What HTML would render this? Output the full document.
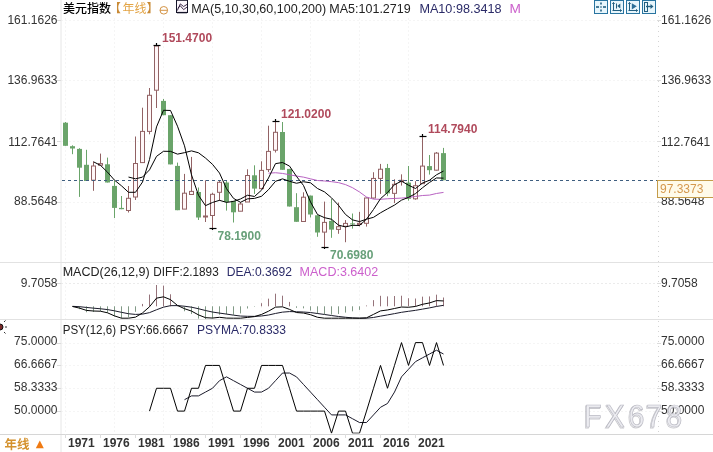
<!DOCTYPE html>
<html><head><meta charset="utf-8"><style>
html,body{margin:0;padding:0;background:#fff;}
body{width:713px;height:452px;overflow:hidden;position:relative;font-family:"Liberation Sans", "Noto Sans CJK SC", sans-serif;}
svg{position:absolute;left:0;top:0;}
text{font-family:"Liberation Sans", "Noto Sans CJK SC", sans-serif;}
</style></head><body>
<svg width="713" height="452" viewBox="0 0 713 452">
<defs>
<clipPath id="cm"><rect x="61" y="263" width="596" height="56"/></clipPath>
<clipPath id="cp"><rect x="61" y="320" width="596" height="113.5"/></clipPath>
</defs>
<rect width="713" height="452" fill="#fff"/>
<line x1="61" y1="20.5" x2="657" y2="20.5" stroke="#f5f5f5" stroke-dasharray="2,2"/>
<line x1="61" y1="80.5" x2="657" y2="80.5" stroke="#f5f5f5" stroke-dasharray="2,2"/>
<line x1="61" y1="141.5" x2="657" y2="141.5" stroke="#f5f5f5" stroke-dasharray="2,2"/>
<line x1="61" y1="202.5" x2="657" y2="202.5" stroke="#f5f5f5" stroke-dasharray="2,2"/>
<line x1="61" y1="283.5" x2="657" y2="283.5" stroke="#ebebeb" stroke-dasharray="2,2"/>
<line x1="61" y1="343.5" x2="657" y2="343.5" stroke="#f5f5f5" stroke-dasharray="2,2"/>
<line x1="61" y1="365.5" x2="657" y2="365.5" stroke="#f5f5f5" stroke-dasharray="2,2"/>
<line x1="61" y1="388.5" x2="657" y2="388.5" stroke="#f5f5f5" stroke-dasharray="2,2"/>
<line x1="61" y1="411.5" x2="657" y2="411.5" stroke="#f5f5f5" stroke-dasharray="2,2"/>
<line x1="65.5" y1="18" x2="65.5" y2="434" stroke="#f5f5f5" stroke-dasharray="2,2"/>
<line x1="114.5" y1="18" x2="114.5" y2="434" stroke="#f5f5f5" stroke-dasharray="2,2"/>
<line x1="163.5" y1="18" x2="163.5" y2="434" stroke="#f5f5f5" stroke-dasharray="2,2"/>
<line x1="212.5" y1="18" x2="212.5" y2="434" stroke="#f5f5f5" stroke-dasharray="2,2"/>
<line x1="261.5" y1="18" x2="261.5" y2="434" stroke="#f5f5f5" stroke-dasharray="2,2"/>
<line x1="310.5" y1="18" x2="310.5" y2="434" stroke="#f5f5f5" stroke-dasharray="2,2"/>
<line x1="359.5" y1="18" x2="359.5" y2="434" stroke="#f5f5f5" stroke-dasharray="2,2"/>
<line x1="408.5" y1="18" x2="408.5" y2="434" stroke="#f5f5f5" stroke-dasharray="2,2"/>
<line x1="61" y1="0" x2="61" y2="452" stroke="#e6e6e6"/>
<line x1="658.5" y1="16" x2="658.5" y2="434" stroke="#d4d4d4" stroke-dasharray="1,4"/>
<line x1="0" y1="262.5" x2="713" y2="262.5" stroke="#e2e2e2"/>
<line x1="0" y1="319.5" x2="713" y2="319.5" stroke="#e2e2e2"/>
<line x1="0" y1="434.5" x2="713" y2="434.5" stroke="#d6d6d6"/>
<line x1="57" y1="20.5" x2="61" y2="20.5" stroke="#dcdcdc"/>
<line x1="657" y1="20.5" x2="661" y2="20.5" stroke="#dcdcdc"/>
<line x1="57" y1="80.5" x2="61" y2="80.5" stroke="#dcdcdc"/>
<line x1="657" y1="80.5" x2="661" y2="80.5" stroke="#dcdcdc"/>
<line x1="57" y1="141.5" x2="61" y2="141.5" stroke="#dcdcdc"/>
<line x1="657" y1="141.5" x2="661" y2="141.5" stroke="#dcdcdc"/>
<line x1="57" y1="202.5" x2="61" y2="202.5" stroke="#dcdcdc"/>
<line x1="657" y1="202.5" x2="661" y2="202.5" stroke="#dcdcdc"/>
<line x1="57" y1="283.5" x2="61" y2="283.5" stroke="#dcdcdc"/>
<line x1="657" y1="283.5" x2="661" y2="283.5" stroke="#dcdcdc"/>
<line x1="57" y1="343.5" x2="61" y2="343.5" stroke="#dcdcdc"/>
<line x1="657" y1="343.5" x2="661" y2="343.5" stroke="#dcdcdc"/>
<line x1="57" y1="365.5" x2="61" y2="365.5" stroke="#dcdcdc"/>
<line x1="657" y1="365.5" x2="661" y2="365.5" stroke="#dcdcdc"/>
<line x1="57" y1="388.5" x2="61" y2="388.5" stroke="#dcdcdc"/>
<line x1="657" y1="388.5" x2="661" y2="388.5" stroke="#dcdcdc"/>
<line x1="57" y1="411.5" x2="61" y2="411.5" stroke="#dcdcdc"/>
<line x1="657" y1="411.5" x2="661" y2="411.5" stroke="#dcdcdc"/>
<line x1="65.5" y1="122" x2="65.5" y2="145.8" stroke="#6aa46a"/>
<rect x="63.0" y="122.7" width="5" height="23.1" fill="#6aa46a"/>
<line x1="72.5" y1="145.3" x2="72.5" y2="154.2" stroke="#6aa46a"/>
<rect x="70.0" y="146.2" width="5" height="2.3" fill="#6aa46a"/>
<line x1="79.5" y1="148.2" x2="79.5" y2="196.9" stroke="#6aa46a"/>
<rect x="77.0" y="148.9" width="5" height="18.8" fill="#6aa46a"/>
<line x1="86.5" y1="149.8" x2="86.5" y2="181" stroke="#6aa46a"/>
<rect x="84.0" y="164.8" width="5" height="16.2" fill="#6aa46a"/>
<line x1="93.5" y1="161.6" x2="93.5" y2="190.8" stroke="#926264"/>
<rect x="91.5" y="166" width="4" height="14.2" fill="#fff7f8" stroke="#926264"/>
<line x1="100.5" y1="153.6" x2="100.5" y2="165.2" stroke="#926264"/>
<rect x="98.5" y="163.6" width="4" height="1.6" fill="#fff7f8" stroke="#926264"/>
<line x1="107.5" y1="157.6" x2="107.5" y2="182.5" stroke="#6aa46a"/>
<rect x="105.0" y="164.3" width="5" height="18.2" fill="#6aa46a"/>
<line x1="114.5" y1="180.6" x2="114.5" y2="218" stroke="#6aa46a"/>
<rect x="112.0" y="185.9" width="5" height="22" fill="#6aa46a"/>
<line x1="121.5" y1="196" x2="121.5" y2="209.2" stroke="#6aa46a"/>
<rect x="119.0" y="207.9" width="5" height="1.3" fill="#6aa46a"/>
<line x1="128.5" y1="186" x2="128.5" y2="212.5" stroke="#926264"/>
<rect x="126.5" y="198.3" width="4" height="12.2" fill="#fff7f8" stroke="#926264"/>
<line x1="135.5" y1="136.5" x2="135.5" y2="200" stroke="#926264"/>
<rect x="133.5" y="163.5" width="4" height="33.5" fill="#fff7f8" stroke="#926264"/>
<line x1="142.5" y1="107.7" x2="142.5" y2="163" stroke="#926264"/>
<rect x="140.5" y="131.4" width="4" height="31.2" fill="#fff7f8" stroke="#926264"/>
<line x1="149.5" y1="88" x2="149.5" y2="134.3" stroke="#926264"/>
<rect x="147.5" y="95.3" width="4" height="36.1" fill="#fff7f8" stroke="#926264"/>
<line x1="156.5" y1="45.3" x2="156.5" y2="108" stroke="#926264"/>
<rect x="154.5" y="46" width="4" height="44.2" fill="#fff7f8" stroke="#926264"/>
<line x1="163.5" y1="99" x2="163.5" y2="115.2" stroke="#6aa46a"/>
<rect x="161.0" y="100.9" width="5" height="14.3" fill="#6aa46a"/>
<line x1="170.5" y1="115.2" x2="170.5" y2="164.4" stroke="#6aa46a"/>
<rect x="168.0" y="115.2" width="5" height="49.2" fill="#6aa46a"/>
<line x1="177.5" y1="162.6" x2="177.5" y2="210.2" stroke="#6aa46a"/>
<rect x="175.0" y="165.9" width="5" height="44.3" fill="#6aa46a"/>
<line x1="184.5" y1="173.9" x2="184.5" y2="209.1" stroke="#926264"/>
<rect x="182.5" y="193.2" width="4" height="15.9" fill="#fff7f8" stroke="#926264"/>
<line x1="191.5" y1="156.9" x2="191.5" y2="194.5" stroke="#926264"/>
<rect x="189.5" y="191.4" width="4" height="3.1" fill="#fff7f8" stroke="#926264"/>
<line x1="198.5" y1="187.5" x2="198.5" y2="220" stroke="#6aa46a"/>
<rect x="196.0" y="192" width="5" height="25.5" fill="#6aa46a"/>
<line x1="205.5" y1="180.3" x2="205.5" y2="222" stroke="#926264"/>
<rect x="203.5" y="216" width="4" height="1" fill="#fff7f8" stroke="#926264"/>
<line x1="212.5" y1="192.7" x2="212.5" y2="228.4" stroke="#926264"/>
<rect x="210.5" y="194.3" width="4" height="21.2" fill="#fff7f8" stroke="#926264"/>
<line x1="219.5" y1="180.3" x2="219.5" y2="200.9" stroke="#926264"/>
<rect x="217.5" y="182.3" width="4" height="10" fill="#fff7f8" stroke="#926264"/>
<line x1="226.5" y1="180" x2="226.5" y2="210.6" stroke="#6aa46a"/>
<rect x="224.0" y="182.5" width="5" height="19.5" fill="#6aa46a"/>
<line x1="233.5" y1="200.9" x2="233.5" y2="222.5" stroke="#6aa46a"/>
<rect x="231.0" y="200.9" width="5" height="11.4" fill="#6aa46a"/>
<line x1="240.5" y1="202" x2="240.5" y2="211.2" stroke="#926264"/>
<rect x="238.5" y="204" width="4" height="7.2" fill="#fff7f8" stroke="#926264"/>
<line x1="247.5" y1="169.3" x2="247.5" y2="202" stroke="#926264"/>
<rect x="245.5" y="175.5" width="4" height="26.5" fill="#fff7f8" stroke="#926264"/>
<line x1="254.5" y1="165.3" x2="254.5" y2="193.9" stroke="#6aa46a"/>
<rect x="252.0" y="175.3" width="5" height="13.3" fill="#6aa46a"/>
<line x1="261.5" y1="161.3" x2="261.5" y2="188.6" stroke="#926264"/>
<rect x="259.5" y="170.4" width="4" height="18.2" fill="#fff7f8" stroke="#926264"/>
<line x1="268.5" y1="125.7" x2="268.5" y2="172" stroke="#926264"/>
<rect x="266.5" y="151.4" width="4" height="18.2" fill="#fff7f8" stroke="#926264"/>
<line x1="275.5" y1="120.6" x2="275.5" y2="152.5" stroke="#926264"/>
<rect x="273.5" y="132.3" width="4" height="17.9" fill="#fff7f8" stroke="#926264"/>
<line x1="282.5" y1="122" x2="282.5" y2="169.8" stroke="#6aa46a"/>
<rect x="280.0" y="132" width="5" height="37.8" fill="#6aa46a"/>
<line x1="289.5" y1="168.9" x2="289.5" y2="206.5" stroke="#6aa46a"/>
<rect x="287.0" y="168.9" width="5" height="37.6" fill="#6aa46a"/>
<line x1="296.5" y1="193.2" x2="296.5" y2="221.8" stroke="#6aa46a"/>
<rect x="294.0" y="207.2" width="5" height="14.6" fill="#6aa46a"/>
<line x1="303.5" y1="192.3" x2="303.5" y2="221.5" stroke="#926264"/>
<rect x="301.5" y="197.2" width="4" height="24.3" fill="#fff7f8" stroke="#926264"/>
<line x1="310.5" y1="195.6" x2="310.5" y2="217.5" stroke="#6aa46a"/>
<rect x="308.0" y="195.6" width="5" height="18.9" fill="#6aa46a"/>
<line x1="317.5" y1="215.3" x2="317.5" y2="236.8" stroke="#6aa46a"/>
<rect x="315.0" y="215.3" width="5" height="17.2" fill="#6aa46a"/>
<line x1="324.5" y1="201.6" x2="324.5" y2="247.3" stroke="#926264"/>
<rect x="322.5" y="222.4" width="4" height="9.7" fill="#fff7f8" stroke="#926264"/>
<line x1="331.5" y1="198.9" x2="331.5" y2="237.8" stroke="#6aa46a"/>
<rect x="329.0" y="220.9" width="5" height="8.7" fill="#6aa46a"/>
<line x1="338.5" y1="202.6" x2="338.5" y2="233.8" stroke="#926264"/>
<rect x="336.5" y="226.7" width="4" height="2.7" fill="#fff7f8" stroke="#926264"/>
<line x1="345.5" y1="220.07" x2="345.5" y2="242.22" stroke="#926264"/>
<rect x="343.5" y="223.4" width="4" height="2.89" fill="#fff7f8" stroke="#926264"/>
<line x1="352.5" y1="213.53" x2="352.5" y2="228.63" stroke="#6aa46a"/>
<rect x="350.0" y="223.4" width="5" height="1.03" fill="#6aa46a"/>
<line x1="359.5" y1="211.89" x2="359.5" y2="226.36" stroke="#926264"/>
<rect x="357.5" y="223.32" width="4" height="1.11" fill="#fff7f8" stroke="#926264"/>
<line x1="366.5" y1="197.42" x2="366.5" y2="226.59" stroke="#926264"/>
<rect x="364.5" y="198" width="4" height="25.32" fill="#fff7f8" stroke="#926264"/>
<line x1="373.5" y1="172.23" x2="373.5" y2="198.68" stroke="#926264"/>
<rect x="371.5" y="178.43" width="4" height="19.58" fill="#fff7f8" stroke="#926264"/>
<line x1="380.5" y1="163.91" x2="380.5" y2="193.85" stroke="#926264"/>
<rect x="378.5" y="169.24" width="4" height="9.19" fill="#fff7f8" stroke="#926264"/>
<line x1="387.5" y1="163.91" x2="387.5" y2="196.14" stroke="#6aa46a"/>
<rect x="385.0" y="167.96" width="5" height="25.39" fill="#6aa46a"/>
<line x1="394.5" y1="179.28" x2="394.5" y2="203.09" stroke="#926264"/>
<rect x="392.5" y="184.34" width="4" height="9.01" fill="#fff7f8" stroke="#926264"/>
<line x1="401.5" y1="174.35" x2="401.5" y2="185.6" stroke="#926264"/>
<rect x="399.5" y="180.31" width="4" height="1.26" fill="#fff7f8" stroke="#926264"/>
<line x1="408.5" y1="165.99" x2="408.5" y2="200.67" stroke="#6aa46a"/>
<rect x="406.0" y="182.6" width="5" height="16.23" fill="#6aa46a"/>
<line x1="415.5" y1="181.22" x2="415.5" y2="199.69" stroke="#926264"/>
<rect x="413.5" y="185.72" width="4" height="13.11" fill="#fff7f8" stroke="#926264"/>
<line x1="422.5" y1="136.29" x2="422.5" y2="183.84" stroke="#926264"/>
<rect x="420.5" y="166.09" width="4" height="17.57" fill="#fff7f8" stroke="#926264"/>
<line x1="429.5" y1="155.02" x2="429.5" y2="174.58" stroke="#6aa46a"/>
<rect x="427.0" y="166.09" width="5" height="4.08" fill="#6aa46a"/>
<line x1="436.5" y1="152" x2="436.5" y2="170.5" stroke="#926264"/>
<rect x="434.5" y="153.13" width="4" height="17.04" fill="#fff7f8" stroke="#926264"/>
<line x1="443.5" y1="147.9" x2="443.5" y2="180.31" stroke="#6aa46a"/>
<rect x="441.0" y="153.13" width="5" height="27.08" fill="#6aa46a"/>
<line x1="62" y1="180.5" x2="657" y2="180.5" stroke="#3f5f80" stroke-dasharray="3,3"/>
<polyline points="268.5,173.18 275.5,172.73 282.5,173.44 289.5,174.73 296.5,176.09 303.5,177.13 310.5,178.83 317.5,180.5 324.5,180.98 331.5,181.66 338.5,182.61 345.5,184.6 352.5,187.7 359.5,191.97 366.5,197.04 373.5,199.15 380.5,199.31 387.5,198.75 394.5,198.45 401.5,198.08 408.5,197.46 415.5,196.45 422.5,195.51 429.5,195.1 436.5,193.48 443.5,192.41" fill="none" stroke="#b862c2" stroke-width="1"/>
<polyline points="128.5,177.05 135.5,178.82 142.5,177.11 149.5,169.87 156.5,156.37 163.5,151.29 170.5,151.37 177.5,154.14 184.5,152.67 191.5,150.89 198.5,152.81 205.5,158.06 212.5,164.35 219.5,173.05 226.5,188.65 233.5,198.36 240.5,202.32 247.5,198.85 254.5,198.39 261.5,196.29 268.5,189.68 275.5,181.31 282.5,178.86 289.5,181.28 296.5,183.26 303.5,181.75 310.5,182.8 317.5,188.5 324.5,191.88 331.5,197.8 338.5,205.33 345.5,214.44 352.5,219.9 359.5,221.58 366.5,219.2 373.5,217.33 380.5,212.8 387.5,208.89 394.5,205.08 401.5,200.15 408.5,197.36 415.5,193.6 422.5,187.76 429.5,182.45 436.5,177.96 443.5,178.14" fill="none" stroke="#000" stroke-width="1"/>
<polyline points="93.5,161.8 100.5,165.36 107.5,172.16 114.5,180.2 121.5,185.84 128.5,192.3 135.5,192.28 142.5,182.06 149.5,159.54 156.5,126.9 163.5,110.28 170.5,110.46 177.5,126.22 184.5,145.8 191.5,174.88 198.5,195.34 205.5,205.66 212.5,202.48 219.5,200.3 226.5,202.42 233.5,201.38 240.5,198.98 247.5,195.22 254.5,196.48 261.5,190.16 268.5,177.98 275.5,163.64 282.5,162.5 289.5,166.08 296.5,176.36 303.5,185.52 310.5,201.96 317.5,214.5 324.5,217.68 331.5,219.24 338.5,225.14 345.5,226.92 352.5,225.3 359.5,225.49 366.5,219.17 373.5,209.51 380.5,198.68 387.5,192.47 394.5,184.67 401.5,181.13 408.5,185.21 415.5,188.51 422.5,183.06 429.5,180.23 436.5,174.79 443.5,171.07" fill="none" stroke="#000" stroke-width="1"/>
<line x1="153.5" y1="45.5" x2="160.5" y2="45.5" stroke="#000" stroke-width="1.2"/>
<line x1="156.5" y1="43.0" x2="156.5" y2="45.5" stroke="#000" stroke-width="1.2"/>
<line x1="272.5" y1="121.5" x2="279.5" y2="121.5" stroke="#000" stroke-width="1.2"/>
<line x1="275.5" y1="119.0" x2="275.5" y2="121.5" stroke="#000" stroke-width="1.2"/>
<line x1="419.5" y1="136.5" x2="426.5" y2="136.5" stroke="#000" stroke-width="1.2"/>
<line x1="422.5" y1="134.0" x2="422.5" y2="136.5" stroke="#000" stroke-width="1.2"/>
<line x1="209.5" y1="228.5" x2="216.5" y2="228.5" stroke="#000" stroke-width="1.2"/>
<line x1="212.5" y1="228.5" x2="212.5" y2="230.0" stroke="#000" stroke-width="1.2"/>
<line x1="321.5" y1="247.5" x2="328.5" y2="247.5" stroke="#000" stroke-width="1.2"/>
<line x1="324.5" y1="247.5" x2="324.5" y2="249.0" stroke="#000" stroke-width="1.2"/>
<line x1="72.5" y1="306.3" x2="72.5" y2="306.63" stroke="#819a86"/>
<line x1="79.5" y1="306.3" x2="79.5" y2="309.18" stroke="#819a86"/>
<line x1="86.5" y1="306.3" x2="86.5" y2="312.25" stroke="#819a86"/>
<line x1="93.5" y1="306.3" x2="93.5" y2="312" stroke="#819a86"/>
<line x1="100.5" y1="306.3" x2="100.5" y2="311.21" stroke="#819a86"/>
<line x1="107.5" y1="306.3" x2="107.5" y2="312.74" stroke="#819a86"/>
<line x1="114.5" y1="306.3" x2="114.5" y2="316.42" stroke="#819a86"/>
<line x1="121.5" y1="306.3" x2="121.5" y2="318.27" stroke="#819a86"/>
<line x1="128.5" y1="306.3" x2="128.5" y2="317.35" stroke="#819a86"/>
<line x1="135.5" y1="306.3" x2="135.5" y2="311.79" stroke="#819a86"/>
<line x1="142.5" y1="306.3" x2="142.5" y2="303.93" stroke="#95737a"/>
<line x1="149.5" y1="306.3" x2="149.5" y2="294.56" stroke="#95737a"/>
<line x1="156.5" y1="306.3" x2="156.5" y2="285" stroke="#95737a"/>
<line x1="163.5" y1="306.3" x2="163.5" y2="285.61" stroke="#95737a"/>
<line x1="170.5" y1="306.3" x2="170.5" y2="294.28" stroke="#95737a"/>
<line x1="177.5" y1="306.3" x2="177.5" y2="305.97" stroke="#95737a"/>
<line x1="184.5" y1="306.3" x2="184.5" y2="311.24" stroke="#819a86"/>
<line x1="191.5" y1="306.3" x2="191.5" y2="314.07" stroke="#819a86"/>
<line x1="198.5" y1="306.3" x2="198.5" y2="318.62" stroke="#819a86"/>
<line x1="205.5" y1="306.3" x2="205.5" y2="319" stroke="#819a86"/>
<line x1="212.5" y1="306.3" x2="212.5" y2="318.35" stroke="#819a86"/>
<line x1="219.5" y1="306.3" x2="219.5" y2="314.73" stroke="#819a86"/>
<line x1="226.5" y1="306.3" x2="226.5" y2="314.31" stroke="#819a86"/>
<line x1="233.5" y1="306.3" x2="233.5" y2="314.75" stroke="#819a86"/>
<line x1="240.5" y1="306.3" x2="240.5" y2="313.41" stroke="#819a86"/>
<line x1="247.5" y1="306.3" x2="247.5" y2="308.51" stroke="#819a86"/>
<line x1="254.5" y1="306.3" x2="254.5" y2="306.76" stroke="#819a86"/>
<line x1="261.5" y1="306.3" x2="261.5" y2="303.21" stroke="#95737a"/>
<line x1="268.5" y1="306.3" x2="268.5" y2="298.65" stroke="#95737a"/>
<line x1="275.5" y1="306.3" x2="275.5" y2="293.68" stroke="#95737a"/>
<line x1="282.5" y1="306.3" x2="282.5" y2="295.7" stroke="#95737a"/>
<line x1="289.5" y1="306.3" x2="289.5" y2="301.92" stroke="#95737a"/>
<line x1="296.5" y1="306.3" x2="296.5" y2="307.83" stroke="#819a86"/>
<line x1="303.5" y1="306.3" x2="303.5" y2="308.34" stroke="#819a86"/>
<line x1="310.5" y1="306.3" x2="310.5" y2="310.57" stroke="#819a86"/>
<line x1="317.5" y1="306.3" x2="317.5" y2="313.84" stroke="#819a86"/>
<line x1="324.5" y1="306.3" x2="324.5" y2="314.12" stroke="#819a86"/>
<line x1="331.5" y1="306.3" x2="331.5" y2="314.62" stroke="#819a86"/>
<line x1="338.5" y1="306.3" x2="338.5" y2="313.97" stroke="#819a86"/>
<line x1="345.5" y1="306.3" x2="345.5" y2="312.58" stroke="#819a86"/>
<line x1="352.5" y1="306.3" x2="352.5" y2="311.3" stroke="#819a86"/>
<line x1="359.5" y1="306.3" x2="359.5" y2="309.89" stroke="#819a86"/>
<line x1="366.5" y1="306.3" x2="366.5" y2="305.49" stroke="#95737a"/>
<line x1="373.5" y1="306.3" x2="373.5" y2="300.15" stroke="#95737a"/>
<line x1="380.5" y1="306.3" x2="380.5" y2="295.8" stroke="#95737a"/>
<line x1="387.5" y1="306.3" x2="387.5" y2="296.4" stroke="#95737a"/>
<line x1="394.5" y1="306.3" x2="394.5" y2="296.03" stroke="#95737a"/>
<line x1="401.5" y1="306.3" x2="401.5" y2="295.71" stroke="#95737a"/>
<line x1="408.5" y1="306.3" x2="408.5" y2="298.23" stroke="#95737a"/>
<line x1="415.5" y1="306.3" x2="415.5" y2="298.53" stroke="#95737a"/>
<line x1="422.5" y1="306.3" x2="422.5" y2="296.65" stroke="#95737a"/>
<line x1="429.5" y1="306.3" x2="429.5" y2="296.42" stroke="#95737a"/>
<line x1="436.5" y1="306.3" x2="436.5" y2="294.67" stroke="#95737a"/>
<line x1="443.5" y1="306.3" x2="443.5" y2="297.51" stroke="#95737a"/>
<polyline points="72.5,306.34 79.5,306.7 86.5,307.44 93.5,308.16 100.5,308.77 107.5,309.58 114.5,310.84 121.5,312.34 128.5,313.72 135.5,314.41 142.5,314.11 149.5,312.64 156.5,309.75 163.5,307.16 170.5,305.66 177.5,305.61 184.5,306.23 191.5,307.2 198.5,308.74 205.5,310.53 212.5,312.04 219.5,313.09 226.5,314.09 233.5,315.15 240.5,316.04 247.5,316.31 254.5,316.37 261.5,315.98 268.5,315.03 275.5,313.45 282.5,312.13 289.5,311.58 296.5,311.77 303.5,312.03 310.5,312.56 317.5,313.5 324.5,314.48 331.5,315.52 338.5,316.48 345.5,317.26 352.5,317.89 359.5,318.2 366.5,318.2 373.5,317.47 380.5,316.15 387.5,314.92 394.5,313.63 401.5,312.31 408.5,311.3 415.5,310.33 422.5,309.12 429.5,307.89 436.5,306.44 443.5,305.34" fill="none" stroke="#1a1a2a" stroke-width="1" clip-path="url(#cm)"/>
<polyline points="72.5,306.51 79.5,308.14 86.5,310.42 93.5,311.01 100.5,311.23 107.5,312.8 114.5,315.9 121.5,318.2 128.5,318.2 135.5,317.15 142.5,312.93 149.5,306.77 156.5,298.16 163.5,296.82 170.5,299.64 177.5,305.45 184.5,308.7 191.5,311.09 198.5,314.9 205.5,317.68 212.5,318.06 219.5,317.3 226.5,318.1 233.5,318.2 240.5,318.2 247.5,317.42 254.5,316.6 261.5,314.44 268.5,311.2 275.5,307.14 282.5,306.83 289.5,309.39 296.5,312.54 303.5,313.05 310.5,314.69 317.5,317.27 324.5,318.2 331.5,318.2 338.5,318.2 345.5,318.2 352.5,318.2 359.5,318.2 366.5,317.83 373.5,314.39 380.5,310.9 387.5,309.97 394.5,308.5 401.5,307.02 408.5,307.27 415.5,306.45 422.5,304.3 429.5,302.95 436.5,300.62 443.5,300.94" fill="none" stroke="#000" stroke-width="1" clip-path="url(#cm)"/>
<polyline points="184.5,399.68 191.5,395.88 198.5,395.88 205.5,392.07 212.5,388.27 219.5,380.66 226.5,376.85 233.5,380.66 240.5,384.46 247.5,388.27 254.5,392.07 261.5,392.07 268.5,388.27 275.5,380.66 282.5,373.04 289.5,373.04 296.5,376.85 303.5,384.46 310.5,392.07 317.5,399.68 324.5,407.29 331.5,414.91 338.5,414.91 345.5,414.91 352.5,418.71 359.5,422.52 366.5,422.52 373.5,414.91 380.5,407.29 387.5,403.49 394.5,392.07 401.5,376.85 408.5,369.24 415.5,361.63 422.5,357.82 429.5,354.02 436.5,350.21 443.5,354.02" fill="none" stroke="#1a1a2a" stroke-width="1" clip-path="url(#cp)"/>
<polyline points="149.5,411.1 156.5,388.27 163.5,388.27 170.5,388.27 177.5,411.1 184.5,411.1 191.5,388.27 198.5,388.27 205.5,365.43 212.5,365.43 219.5,365.43 226.5,388.27 233.5,411.1 240.5,411.1 247.5,388.27 254.5,388.27 261.5,365.43 268.5,365.43 275.5,365.43 282.5,365.43 289.5,388.27 296.5,411.1 303.5,411.1 310.5,411.1 317.5,411.1 324.5,411.1 331.5,433.2 338.5,411.1 345.5,411.1 352.5,433.2 359.5,433.2 366.5,411.1 373.5,388.27 380.5,365.43 387.5,388.27 394.5,365.43 401.5,342.6 408.5,365.43 415.5,342.6 422.5,342.6 429.5,365.43 436.5,342.6 443.5,365.43" fill="none" stroke="#000" stroke-width="1" clip-path="url(#cp)"/>
<!-- header -->
<g font-size="12.4" fill="#222">
<text x="63" y="13" font-size="12" fill="#000" font-weight="500">美元指数</text>
<text x="109" y="13" font-size="12" fill="#c98a35">【</text>
<text x="122.5" y="13" font-size="12" fill="#e3a445">年线</text>
<text x="146.5" y="13" font-size="12" fill="#c98a35">】</text>
<circle cx="163.8" cy="10.3" r="3.8" fill="none" stroke="#d49445" stroke-width="1"/>
<line x1="160" y1="10.3" x2="167.6" y2="10.3" stroke="#d49445"/>
<rect x="176.5" y="0.3" width="11" height="12.2" fill="#fcf7fc" stroke="#141428" stroke-width="1"/>
<line x1="177" y1="12.6" x2="187" y2="12.6" stroke="#141428" stroke-width="1.4"/>
<polyline points="177.3,10.6 180.3,3.9 183.6,6.5 187,4.4" fill="none" stroke="#2a1a3a" stroke-width="0.9"/>
<polyline points="177.8,8.2 180.3,5.8 183.6,9.6 187,7.1" fill="none" stroke="#2a1a3a" stroke-width="0.9"/>
<text x="191.2" textLength="135.0" lengthAdjust="spacingAndGlyphs" y="13">MA(5,10,30,60,100,200)</text>
<text x="329.3" textLength="81.4" lengthAdjust="spacingAndGlyphs" y="13">MA5:101.2719</text>
<text x="419.4" textLength="82.2" lengthAdjust="spacingAndGlyphs" y="13" fill="#2b2b68">MA10:98.3418</text>
<text x="509.5" textLength="11.4" lengthAdjust="spacingAndGlyphs" y="13" fill="#cc60cc">M</text>
</g>
<!-- right icons -->
<g stroke="#2874a0" fill="#e8f6fc" stroke-width="1">
<rect x="594.5" y="0.5" width="13" height="13"/>
<rect x="610.5" y="0.5" width="13" height="13"/>
<rect x="626.5" y="0.5" width="13" height="13"/>
<rect x="642.5" y="0.5" width="13" height="13"/>
</g>
<g fill="#235f80" stroke="none">
<rect x="596" y="6.2" width="3" height="1.6"/><rect x="603" y="6.2" width="3" height="1.6"/>
<rect x="600.2" y="2.5" width="1.6" height="2"/><rect x="600.2" y="9.5" width="1.6" height="2"/>
<rect x="600.3" y="6.3" width="1.4" height="1.4"/>
</g>
<g fill="none" stroke="#235f80" stroke-width="1">
<line x1="613.5" y1="2.5" x2="613.5" y2="11"/><line x1="612.5" y1="10.5" x2="621.5" y2="10.5"/>
<polyline points="612.3,3.8 613.5,2.5 614.7,3.8"/><polyline points="620.2,9.3 621.5,10.5 620.2,11.7"/>
<line x1="616.5" y1="3.5" x2="616.5" y2="8.5"/>
<line x1="629.5" y1="2.5" x2="629.5" y2="11"/><line x1="628.5" y1="10.5" x2="637.5" y2="10.5"/>
<polyline points="628.3,3.8 629.5,2.5 630.7,3.8"/><polyline points="636.2,9.3 637.5,10.5 636.2,11.7"/>
<rect x="644.5" y="2.5" width="3" height="9"/>
<line x1="646" y1="6.5" x2="651" y2="6.5" stroke-width="1.4"/>
</g>
<g fill="#235f80">
<polygon points="620.3,3.6 617.3,6 620.3,8.4"/>
<polygon points="631.8,3.2 636.8,6.3 631.8,9.4" fill="#2d6f98"/>
<polygon points="650.5,4 653.5,6.5 650.5,9"/>
</g>
<!-- axis labels -->
<g font-size="12" fill="#333">
<text x="57.5" y="24" text-anchor="end">161.1626</text>
<text x="57.5" y="84" text-anchor="end">136.9633</text>
<text x="57.5" y="145.5" text-anchor="end">112.7641</text>
<text x="57.5" y="204.8" text-anchor="end">88.5648</text>
<text x="661" y="24">161.1626</text>
<text x="661" y="84">136.9633</text>
<text x="661" y="145.5">112.7641</text>
<text x="661" y="204.8">88.5648</text>
<text x="57.5" y="287" text-anchor="end">9.7058</text>
<text x="661" y="287">9.7058</text>
<text x="57.5" y="345" text-anchor="end">75.0000</text>
<text x="57.5" y="367.5" text-anchor="end">66.6667</text>
<text x="57.5" y="390.5" text-anchor="end">58.3333</text>
<text x="57.5" y="413.5" text-anchor="end">50.0000</text>
<text x="661" y="345">75.0000</text>
<text x="661" y="367.5">66.6667</text>
<text x="661" y="390.5">58.3333</text>
<text x="661" y="413.5">50.0000</text>
</g>
<!-- price tag -->
<rect x="657.5" y="180.5" width="60" height="17" fill="#fffbea" stroke="#c49c4a"/>
<text x="660" y="193" font-size="12" fill="#d5994e">97.3373</text>
<!-- hi/lo labels -->
<g font-size="12" font-weight="bold">
<text x="162" y="41.8" fill="#b04a5c">151.4700</text>
<text x="281" y="117.8" fill="#b04a5c">121.0200</text>
<text x="428" y="133" fill="#b04a5c">114.7940</text>
</g>
<g font-size="12" font-weight="bold">
<text x="217.5" y="239.6" fill="#68a07a">78.1900</text>
<text x="330" y="258.6" fill="#68a07a">70.6980</text>
</g>
<!-- MACD header -->
<g font-size="12.2" fill="#222">
<text x="62.7" textLength="86.9" lengthAdjust="spacingAndGlyphs" y="276.4">MACD(26,12,9)</text>
<text x="153.3" textLength="65.4" lengthAdjust="spacingAndGlyphs" y="276.4">DIFF:2.1893</text>
<text x="226.7" textLength="65.2" lengthAdjust="spacingAndGlyphs" y="276.4" fill="#2b2b68">DEA:0.3692</text>
<text x="299.6" textLength="78.6" lengthAdjust="spacingAndGlyphs" y="276.4" fill="#cc60cc">MACD:3.6402</text>
</g>
<!-- PSY header -->
<g font-size="12.2" fill="#222">
<text x="62.7" textLength="53.3" lengthAdjust="spacingAndGlyphs" y="334">PSY(12,6)</text>
<text x="119.7" textLength="69.0" lengthAdjust="spacingAndGlyphs" y="334">PSY:66.6667</text>
<text x="196.9" textLength="89.1" lengthAdjust="spacingAndGlyphs" y="334" fill="#2b2b68">PSYMA:70.8333</text>
</g>
<!-- x axis -->
<g font-size="12" font-weight="bold" fill="#333">
<text x="68.0" y="447">1971</text>
<line x1="65.5" y1="434" x2="65.5" y2="438" stroke="#ddd"/>
<text x="103.0" y="447">1976</text>
<line x1="100.5" y1="434" x2="100.5" y2="438" stroke="#ddd"/>
<text x="138.0" y="447">1981</text>
<line x1="135.5" y1="434" x2="135.5" y2="438" stroke="#ddd"/>
<text x="173.0" y="447">1986</text>
<line x1="170.5" y1="434" x2="170.5" y2="438" stroke="#ddd"/>
<text x="208.0" y="447">1991</text>
<line x1="205.5" y1="434" x2="205.5" y2="438" stroke="#ddd"/>
<text x="243.0" y="447">1996</text>
<line x1="240.5" y1="434" x2="240.5" y2="438" stroke="#ddd"/>
<text x="278.0" y="447">2001</text>
<line x1="275.5" y1="434" x2="275.5" y2="438" stroke="#ddd"/>
<text x="313.0" y="447">2006</text>
<line x1="310.5" y1="434" x2="310.5" y2="438" stroke="#ddd"/>
<text x="348.0" y="447">2011</text>
<line x1="345.5" y1="434" x2="345.5" y2="438" stroke="#ddd"/>
<text x="383.0" y="447">2016</text>
<line x1="380.5" y1="434" x2="380.5" y2="438" stroke="#ddd"/>
<text x="418.0" y="447">2021</text>
<line x1="415.5" y1="434" x2="415.5" y2="438" stroke="#ddd"/>
</g>
<text x="4.5" y="449" font-size="12.5" font-weight="bold" fill="#d4922e">年线</text>
<polygon points="35.8,448.2 39.8,440.6 43.8,448.2" fill="#f07a12"/>
<!-- sun icon -->
<circle cx="0" cy="327" r="3" fill="#7a2a2a" stroke="#111" stroke-width="1"/>
<line x1="4" y1="322" x2="5.5" y2="320.5" stroke="#333"/>
<line x1="5" y1="327" x2="7" y2="327" stroke="#333"/>
<line x1="4" y1="332" x2="5.5" y2="333.5" stroke="#333"/>
<!-- watermark -->
<g font-size="32" fill="none" stroke="#8a8a94" stroke-width="1" opacity="0.45"><text x="583.35" y="427.9" textLength="17.6" lengthAdjust="spacingAndGlyphs">F</text><text x="604.70" y="427.9" textLength="19.2" lengthAdjust="spacingAndGlyphs">X</text><text x="627.60" y="427.9" textLength="16.0" lengthAdjust="spacingAndGlyphs">6</text><text x="645.25" y="427.9" textLength="16.0" lengthAdjust="spacingAndGlyphs">7</text><text x="665.45" y="427.9" textLength="16.0" lengthAdjust="spacingAndGlyphs">8</text></g>
<g font-size="32" fill="#ececf1" stroke="#b4b4be" stroke-width="0.7" opacity="0.9"><text x="584.25" y="427.4" textLength="17.6" lengthAdjust="spacingAndGlyphs">F</text><text x="605.60" y="427.4" textLength="19.2" lengthAdjust="spacingAndGlyphs">X</text><text x="628.50" y="427.4" textLength="16.0" lengthAdjust="spacingAndGlyphs">6</text><text x="646.15" y="427.4" textLength="16.0" lengthAdjust="spacingAndGlyphs">7</text><text x="666.35" y="427.4" textLength="16.0" lengthAdjust="spacingAndGlyphs">8</text></g>
</svg>
</body></html>
